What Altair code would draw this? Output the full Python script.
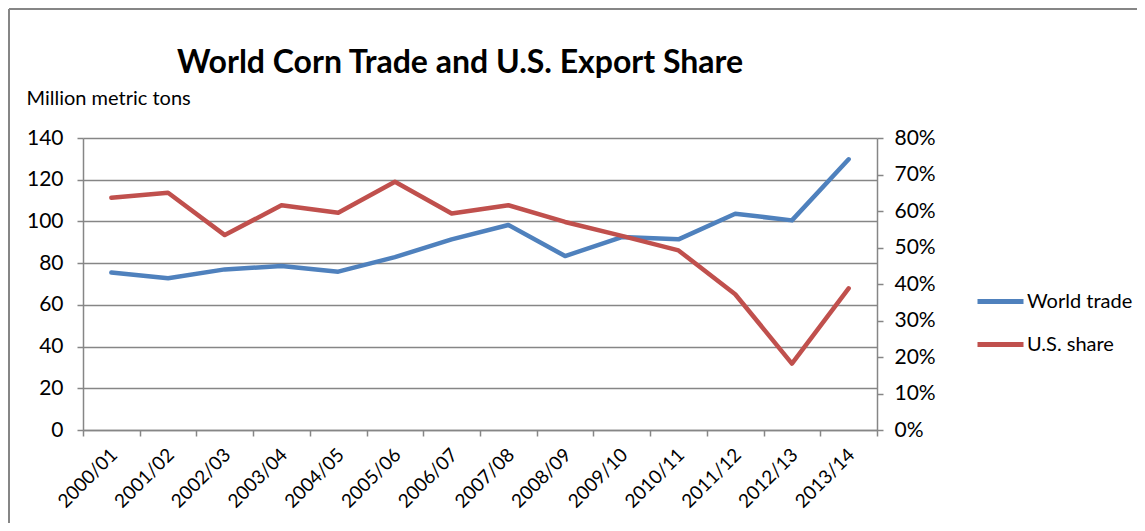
import altair as alt
import pandas as pd

seasons = ["2000/01", "2001/02", "2002/03", "2003/04", "2004/05", "2005/06", "2006/07",
           "2007/08", "2008/09", "2009/10", "2010/11", "2011/12", "2012/13", "2013/14"]
world_trade = [75.5, 72.8, 77.0, 78.6, 75.9, 82.9, 91.4, 98.3, 83.4, 92.5, 91.4, 103.7, 100.5, 129.8]
us_share_pct = [63.6, 65.0, 53.4, 61.6, 59.5, 68.0, 59.3, 61.6, 57.0, 53.2, 49.2, 37.2, 18.2, 38.8]

series_names = ["World trade", "U.S. share"]
series_colors = ["#4F81BD", "#C0504D"]
left_ticks = [0, 20, 40, 60, 80, 100, 120, 140]
right_ticks = [0, 0.1, 0.2, 0.3, 0.4, 0.5, 0.6, 0.7, 0.8]

df = pd.DataFrame({
    "season": seasons,
    "world": world_trade,
    "share": [v / 100 for v in us_share_pct],
})

FONT = "Lato"
GRAY = "#868686"

W, H = 794, 292
PAD_L, PAD_T = 75, 130
TOTAL_W, TOTAL_H = 1129, 515

color_scale = alt.Scale(domain=series_names, range=series_colors)
legend = alt.Legend(
    title=None, orient="none", legendX=892, legendY=138,
    symbolType="stroke", symbolSize=2116, symbolStrokeWidth=5,
    labelFont=FONT, labelFontSize=20, labelColor="black", labelOffset=1,
    rowPadding=7, padding=0,
)

x_enc = alt.X(
    "season:N", sort=seasons, bandPosition=0.5,
    scale=alt.Scale(type="band", paddingInner=0, paddingOuter=0),
    axis=alt.Axis(title=None, labelAngle=-45, tickBand="extent", labelPadding=9,
                  labelOffset=-4, labelFontSize=19, grid=False, domain=True),
)

base = alt.Chart(df)

world = base.transform_calculate(series="'World trade'").mark_line(
    strokeWidth=4.5, strokeCap="round", strokeJoin="round").encode(
    x=x_enc,
    y=alt.Y("world:Q", scale=alt.Scale(domain=[0, 140]),
            axis=alt.Axis(title="Million metric tons", values=left_ticks, grid=True,
                          orient="left", labelPadding=14, labelFontSize=21,
                          titleAngle=0, titleX=-57, titleY=-30, titleAlign="left",
                          titleBaseline="bottom", titleFont=FONT, titleFontSize=20,
                          titleFontWeight="normal", titleColor="black")),
    color=alt.Color("series:N", scale=color_scale, legend=legend),
)

share = base.transform_calculate(series="'U.S. share'").mark_line(
    strokeWidth=4.5, strokeCap="round", strokeJoin="round").encode(
    x=x_enc,
    y=alt.Y("share:Q", scale=alt.Scale(domain=[0, 0.8]),
            axis=alt.Axis(title=None, values=right_ticks, format=".0%", grid=False,
                          orient="right", labelPadding=11, labelFontSize=21)),
    color=alt.Color("series:N", scale=color_scale, legend=legend),
)

border_df = pd.DataFrame({"k": [0]})
border_top = alt.Chart(border_df).mark_rule(color=GRAY, strokeWidth=2).encode(
    x=alt.value(-PAD_L + 1), x2=alt.value(TOTAL_W - PAD_L), y=alt.value(-PAD_T + 1))
border_left = alt.Chart(border_df).mark_rule(color=GRAY, strokeWidth=2).encode(
    x=alt.value(-PAD_L + 1), y=alt.value(-PAD_T + 1), y2=alt.value(TOTAL_H - PAD_T))

chart = alt.layer(world, share, border_top, border_left).resolve_scale(
    y="independent"
).properties(
    width=W, height=H,
    autosize=alt.AutoSizeParams(type="none"),
    padding={"left": PAD_L, "top": PAD_T, "right": TOTAL_W - PAD_L - W, "bottom": TOTAL_H - PAD_T - H},
    title=alt.Title("World Corn Trade and U.S. Export Share", font=FONT, fontSize=32,
                    fontWeight="bold", color="black", anchor="middle", dx=-20,
                    baseline="alphabetic", offset=-97),
).configure_view(stroke=None).configure_axis(
    labelFont=FONT, labelFontSize=20, labelColor="black",
    domainColor=GRAY, tickColor=GRAY, gridColor=GRAY,
    domainWidth=1.5, tickWidth=1.5, gridWidth=1.5, tickSize=6,
)

chart.save("out.html", embed_options={"renderer": "svg", "actions": False})
